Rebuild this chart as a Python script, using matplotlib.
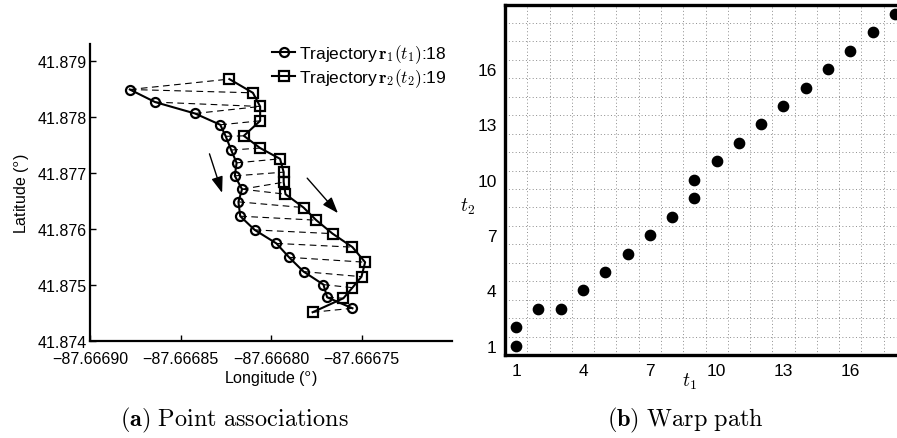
import matplotlib
matplotlib.use("Agg")
import matplotlib.pyplot as plt
from matplotlib.lines import Line2D

plt.rcParams['font.family'] = ['Liberation Sans', 'DejaVu Sans']
plt.rcParams['mathtext.fontset'] = 'cm'

# trajectory r1 (18 samples)
r1_lon = [-87.666878, -87.666864, -87.666842, -87.666828, -87.666825, -87.666822,
          -87.666819, -87.666820, -87.666816, -87.666818, -87.666817, -87.666809,
          -87.666797, -87.666790, -87.666782, -87.666771, -87.666769, -87.666755]
r1_lat = [41.878488, 41.878263, 41.878060, 41.877858, 41.877652, 41.877408,
          41.877179, 41.876947, 41.876709, 41.876483, 41.876227, 41.875982,
          41.875741, 41.875493, 41.875238, 41.875006, 41.874780, 41.874584]

# trajectory r2 (19 samples)
r2_lon = [-87.666823, -87.666810, -87.666806, -87.666806, -87.666815, -87.666806,
          -87.666795, -87.666793, -87.666793, -87.666792, -87.666782, -87.666775,
          -87.666766, -87.666755, -87.666748, -87.666750, -87.666755, -87.666760,
          -87.666777]
r2_lat = [41.878674, 41.878429, 41.878185, 41.877929, 41.877661, 41.877443,
          41.877251, 41.877013, 41.876834, 41.876620, 41.876381, 41.876156,
          41.875916, 41.875675, 41.875406, 41.875148, 41.874952, 41.874763,
          41.874513]

# DTW warp path (1-based indices into r1, r2)
warp_t1 = [1, 1, 2, 3, 4, 5, 6, 7, 8, 9, 9, 10, 11, 12, 13, 14, 15, 16, 17, 18]
warp_t2 = [1, 2, 3, 3, 4, 5, 6, 7, 8, 9, 10, 11, 12, 13, 14, 15, 16, 17, 18, 19]

# direction arrows (start lon, start lat, end lon, end lat)
arrows = [
    (-87.666834, 41.877340, -87.666827, 41.876643),
    (-87.666780, 41.876906, -87.666763, 41.876281),
]

lon_ticks = [-87.66690, -87.66685, -87.66680, -87.66675]
lat_ticks = [41.874, 41.875, 41.876, 41.877, 41.878, 41.879]
warp_ticks = [1, 4, 7, 10, 13, 16]

fig = plt.figure(figsize=(8.97, 4.39), dpi=100)

# ---- (a) point associations
ax1 = fig.add_axes([90 / 897, 1 - 342 / 439, 362 / 897, 297 / 439])
for i, j in zip(warp_t1, warp_t2):
    ax1.plot([r1_lon[i - 1], r2_lon[j - 1]], [r1_lat[i - 1], r2_lat[j - 1]],
             color='black', lw=0.8, ls=(0, (6, 4)), zorder=1)
ax1.plot(r1_lon, r1_lat, '-o', color='black', lw=1.5, ms=6.5, mew=1.6,
         mfc='none', zorder=3)
ax1.plot(r2_lon, r2_lat, '-s', color='black', lw=1.5, ms=6.5, mew=1.6,
         mfc='none', zorder=3)
for x0, y0, x1, y1 in arrows:
    ax1.annotate('', xy=(x1, y1), xytext=(x0, y0),
                 arrowprops=dict(arrowstyle='-|>,head_length=0.7,head_width=0.25',
                                 color='black', lw=1.0,
                                 mutation_scale=14, shrinkA=0, shrinkB=0))

ax1.set_xlim(-87.66690, -87.66670)
ax1.set_ylim(41.874, 41.8793)
ax1.set_xticks(lon_ticks)
ax1.set_xticklabels([('%.5f' % v).replace('-', '\u2212') for v in lon_ticks])
ax1.set_yticks(lat_ticks)
ax1.set_yticklabels(['%.3f' % v for v in lat_ticks])
ax1.tick_params(direction='in', length=4, width=1, labelsize=11.5)
ax1.tick_params(axis='x', pad=7)
ax1.tick_params(axis='y', pad=2)
for s in ['top', 'right']:
    ax1.spines[s].set_visible(False)
for s in ['left', 'bottom']:
    ax1.spines[s].set_linewidth(1.6)
ax1.set_xlabel(r'Longitude ($^\mathsf{o}$)', fontsize=11.5, labelpad=2)
ax1.set_ylabel(r'Latitude ($^\mathsf{o}$)', fontsize=11.5, labelpad=5)

handles = [
    Line2D([], [], color='black', marker='o', mfc='none', lw=1.5, ms=6.5, mew=1.6),
    Line2D([], [], color='black', marker='s', mfc='none', lw=1.5, ms=6.5, mew=1.6),
]
labels = [r'Trajectory$\,\mathbf{r}_1(t_1)$:%d' % len(r1_lon),
          r'Trajectory$\,\mathbf{r}_2(t_2)$:%d' % len(r2_lon)]
ax1.legend(handles, labels, loc='upper right', bbox_to_anchor=(1.005, 1.03),
           frameon=False, fontsize=12.5, handlelength=1.3, handletextpad=0.25,
           labelspacing=0.1, borderaxespad=0.0)

# ---- (b) warp path
ax2 = fig.add_axes([505 / 897, 1 - 356 / 439, 401 / 897, 350.5 / 439])
ax2.scatter(warp_t1, warp_t2, s=55, color='black', zorder=3)
ax2.set_xlim(0.5, 18.5)
ax2.set_ylim(0.5, 19.5)
for k in range(1, 19):
    ax2.axvline(k + 0.5, color='0.55', lw=0.7, ls=(0, (1, 2.5)), zorder=1)
for k in range(1, 20):
    ax2.axhline(k + 0.5, color='0.55', lw=0.7, ls=(0, (1, 2.5)), zorder=1)
ax2.set_xticks(warp_ticks)
ax2.set_yticks(warp_ticks)
ax2.tick_params(length=0, labelsize=12.5, pad=6)
for s in ax2.spines.values():
    s.set_linewidth(2.4)
fig.text(689 / 897, 1 - 382 / 439, r'$t_1$', fontsize=14, ha='center', va='center')
fig.text(468 / 897, 1 - 207 / 439, r'$t_2$', fontsize=14, ha='center', va='center')

# captions
fig.text(234 / 897, 1 - 420 / 439, r'$\mathbf{(a)}\ \mathrm{Point\ associations}$',
         fontsize=17.5, ha='center', va='center')
fig.text(685 / 897, 1 - 420 / 439, r'$\mathbf{(b)}\ \mathrm{Warp\ path}$',
         fontsize=17.5, ha='center', va='center')

fig.savefig('out.png', dpi=100)
